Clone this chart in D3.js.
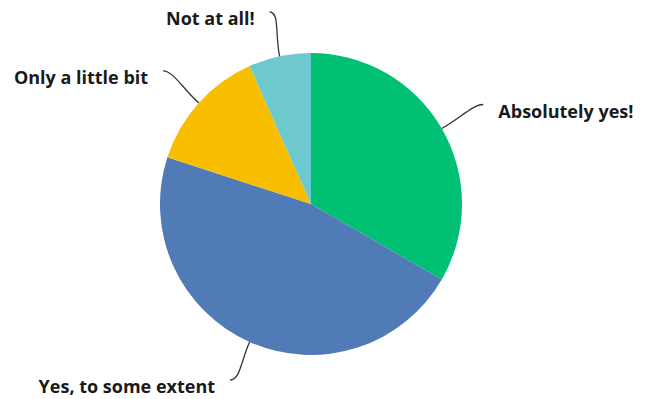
<!DOCTYPE html>
<html>
<head>
<meta charset="utf-8">
<script src="https://cdn.jsdelivr.net/npm/d3@7"></script>
<style>
  html, body { margin: 0; padding: 0; background: #fff; }
  svg { display: block; }
  .label { font-family: "Open Sans", Lato, sans-serif; font-weight: 700; font-size: 18px; fill: #1a1a1a; }
  .connector { fill: none; stroke: #333; stroke-width: 1.3; }
</style>
</head>
<body>
<svg id="chart" width="650" height="399"></svg>
<script>
// Survey answers and the number of responses for each
const answers = ["Absolutely yes!", "Yes, to some extent", "Only a little bit", "Not at all!"];
const responses = [5, 7, 2, 1];
const colours = ["#00c073", "#507bb6", "#f8be00", "#6dc9cd"];

const width = 650, height = 399;
const cx = 311, cy = 204, radius = 151;
const labelRadius = 199;   // where the connector meets its label
const labelGap = 15;        // space between connector end and text
const baselineDrop = 13;    // text baseline below the connector end

const svg = d3.select("#chart");
const g = svg.append("g").attr("transform", `translate(${cx},${cy})`);

const pie = d3.pie().sort(null).value(d => d.value);
const arcs = pie(answers.map((a, i) => ({ answer: a, value: responses[i], colour: colours[i] })));
const arc = d3.arc().innerRadius(0).outerRadius(radius);

g.selectAll("path.slice")
  .data(arcs)
  .join("path")
  .attr("class", "slice")
  .attr("d", arc)
  .attr("fill", d => d.data.colour);

// point at a given radius along the middle of a slice
function polar(d, r) {
  const a = (d.startAngle + d.endAngle) / 2;
  return [r * Math.sin(a), -r * Math.cos(a)];
}

// label anchor, kept inside the drawing area
function anchor(d) {
  const p = polar(d, labelRadius);
  const minY = 12 - cy, maxY = height - 19 - cy;
  p[1] = Math.max(minY, Math.min(maxY, p[1]));
  return p;
}

const labels = g.selectAll("g.lbl").data(arcs).join("g").attr("class", "lbl");

labels.append("path")
  .attr("class", "connector")
  .attr("d", d => {
    const s = anchor(d);
    const e = polar(d, radius);
    const c2 = polar(d, radius + 22);
    const side = s[0] >= 0 ? 1 : -1;
    const c1 = [s[0] - side * 10, s[1]];
    const p = d3.path();
    p.moveTo(s[0], s[1]);
    p.bezierCurveTo(c1[0], c1[1], c2[0], c2[1], e[0], e[1]);
    return p.toString();
  });

labels.append("text")
  .attr("class", "label")
  .attr("x", d => {
    const s = anchor(d);
    return s[0] >= 0 ? s[0] + labelGap : s[0] - labelGap;
  })
  .attr("y", d => anchor(d)[1] + baselineDrop)
  .attr("text-anchor", d => anchor(d)[0] >= 0 ? "start" : "end")
  .text(d => d.data.answer);
</script>
</body>
</html>
